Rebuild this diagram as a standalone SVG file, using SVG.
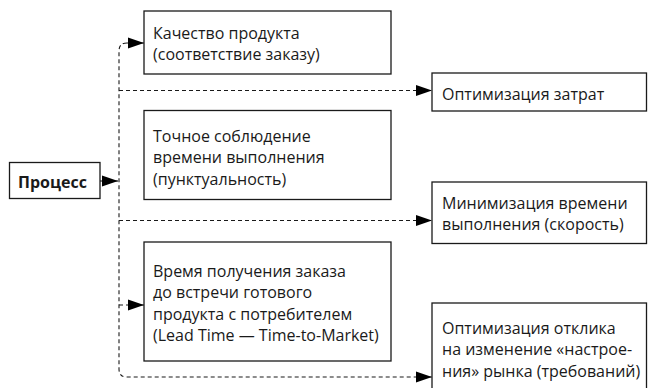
<svg xmlns="http://www.w3.org/2000/svg" width="648" height="388" viewBox="0 0 648 388">
<style>
.box{fill:#fff;stroke:#1a1a1a;stroke-width:1.3}
.t{font-family:"Open Sans","Noto Sans","DejaVu Sans",sans-serif;font-size:16px;fill:#1a1a1a}
.b{font-weight:bold}
.dash{fill:none;stroke:#1a1a1a;stroke-width:1.1;stroke-dasharray:4 3}
.solid{fill:none;stroke:#1a1a1a;stroke-width:1.1}
</style>
<defs>
<marker id="ah" markerUnits="userSpaceOnUse" markerWidth="17" markerHeight="13" refX="16" refY="6" orient="auto">
<path d="M0,0.5 L16,6 L0,11.5 z" fill="#000"/>
</marker>
</defs>
<g id="connectors">
<path class="solid" d="M100,181 H118" marker-end="url(#ah)"/>
<path class="dash" d="M127,43 Q119,43 119,51 V369 Q119,377 127,377 H432" marker-end="url(#ah)"/>
<path class="dash" d="M127,43 H144" marker-end="url(#ah)"/>
<path class="dash" d="M119,90.5 H432" marker-end="url(#ah)"/>
<path class="dash" d="M119,220.5 H432" marker-end="url(#ah)"/>
<path class="dash" d="M119,305 H144" marker-end="url(#ah)"/>
</g>
<g id="process">
<rect class="box" x="9.5" y="162.5" width="90.5" height="36"/>
<text class="t b" x="18" y="188.3">Процесс</text>
</g>
<g id="quality">
<rect class="box" x="144" y="11" width="247" height="63"/>
<text class="t" x="153" y="38.5">Качество продукта</text>
<text class="t" x="153" y="60">(соответствие заказу)</text>
</g>
<g id="punctuality">
<rect class="box" x="144" y="110.5" width="247" height="89"/>
<text class="t" x="153" y="141.5">Точное соблюдение</text>
<text class="t" x="153" y="163">времени выполнения</text>
<text class="t" x="153" y="184.5">(пунктуальность)</text>
</g>
<g id="leadtime">
<rect class="box" x="144" y="242" width="247" height="119"/>
<text class="t" x="153" y="276.7">Время получения заказа</text>
<text class="t" x="153" y="298.2">до встречи готового</text>
<text class="t" x="153" y="319.7">продукта с потребителем</text>
<text class="t" x="153" y="341.2">(Lead Time — Time-to-Market)</text>
</g>
<g id="costs">
<rect class="box" x="432" y="73" width="214.5" height="38"/>
<text class="t" x="442" y="100">Оптимизация затрат</text>
</g>
<g id="speed">
<rect class="box" x="432" y="182" width="214.5" height="61.5"/>
<text class="t" x="442" y="208.5">Минимизация времени</text>
<text class="t" x="442" y="230">выполнения (скорость)</text>
</g>
<g id="response">
<rect class="box" x="432" y="303" width="214.5" height="90"/>
<text class="t" x="442" y="333.5">Оптимизация отклика</text>
<text class="t" x="442" y="355">на изменение «настрое-</text>
<text class="t" x="442" y="376.5">ния» рынка (требований)</text>
</g>
</svg>
